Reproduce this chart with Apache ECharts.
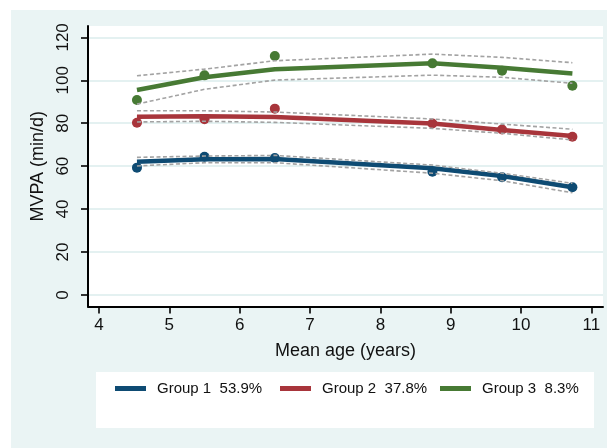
<!DOCTYPE html>
<html>
<head>
<meta charset="utf-8">
<script src="https://cdn.jsdelivr.net/npm/echarts@6/dist/echarts.min.js"></script>
<style>
html,body{margin:0;padding:0;background:#fff;width:607px;height:448px;overflow:hidden;}
#c{position:absolute;left:11px;top:10px;width:596px;height:438px;}
</style>
</head>
<body>
<div id="c"></div>
<script>
const ages = [4.54, 5.5, 6.5, 8.74, 9.73, 10.73];
const xTicks = [4, 5, 6, 7, 8, 9, 10, 11];
const yTicks = [0, 20, 40, 60, 80, 100, 120];
const groupNames = ['Group 1  53.9%', 'Group 2  37.8%', 'Group 3  8.3%'];

const g1Obs = [59.3, 64.4, 63.8, 57.4, 54.8, 50.2];
const g1Fit = [62.1, 63.2, 63.3, 59.0, 55.4, 50.2];
const g1Up  = [64.1, 64.7, 65.0, 60.5, 56.7, 52.0];
const g1Lo  = [60.1, 61.6, 61.6, 56.7, 53.2, 47.6];

const g2Obs = [80.2, 81.9, 86.8, 79.9, 77.1, 73.7];
const g2Fit = [83.0, 83.2, 82.9, 79.9, 76.8, 74.0];
const g2Up  = [85.8, 85.8, 85.2, 82.0, 79.6, 77.2];
const g2Lo  = [80.6, 80.9, 80.4, 77.6, 75.3, 72.2];

const g3Obs = [90.8, 102.3, 111.3, 107.9, 104.5, 97.5];
const g3Fit = [95.5, 101.4, 105.1, 107.9, 105.9, 103.2];
const g3Up  = [102.1, 105.2, 109.1, 112.2, 110.7, 108.2];
const g3Lo  = [88.9, 95.8, 100.1, 102.4, 101.4, 98.6];

const colors = ['#0e4b73', '#a8353b', '#477a34'];
const groups = [
  {obs: g1Obs, fit: g1Fit, up: g1Up, lo: g1Lo},
  {obs: g2Obs, fit: g2Fit, up: g2Up, lo: g2Lo},
  {obs: g3Obs, fit: g3Fit, up: g3Up, lo: g3Lo}
];

const pair = arr => ages.map((a, i) => [a, arr[i]]);
const FONT = 'Liberation Sans, Arial, Helvetica, sans-serif';

const series = [];
groups.forEach((g, k) => {
  series.push({
    name: groupNames[k] + ' obs', type: 'scatter', data: pair(g.obs),
    symbol: 'circle', symbolSize: 10, itemStyle: {color: colors[k], opacity: 1}, z: 2, silent: true
  });
  series.push({
    name: groupNames[k], type: 'line', data: pair(g.fit), showSymbol: false, symbol: 'none',
    lineStyle: {color: colors[k], width: 4.5}, itemStyle: {color: colors[k]}, z: 3, silent: true
  });
  [g.up, g.lo].forEach(ci => {
    series.push({
      name: groupNames[k] + ' ci', type: 'line', data: pair(ci), showSymbol: false, symbol: 'none',
      lineStyle: {color: '#a3a3a3', width: 1.6, type: [4, 2.5]}, z: 4, silent: true
    });
  });
});

const legendLefts = [104, 269, 429];
const legends = groupNames.map((n, k) => ({
  data: [n], left: legendLefts[k], top: 371, padding: 0,
  itemWidth: 31, itemHeight: 5, icon: 'rect', selectedMode: false,
  textStyle: {fontFamily: FONT, fontSize: 15, color: '#111', padding: [0, 0, 0, 6]}
}));

const chart = echarts.init(document.getElementById('c'), null, {renderer: 'canvas'});
chart.setOption({
  backgroundColor: '#eaf4f4',
  animation: false,
  color: colors,
  grid: {left: 77, top: 16, right: 4, bottom: 141.5, show: true, backgroundColor: '#ffffff', borderWidth: 0},
  legend: legends,
  graphic: [{
    type: 'rect', left: 85, top: 362, shape: {width: 498, height: 56},
    style: {fill: '#ffffff'}, z: 0, silent: true
  }],
  xAxis: {
    type: 'value', min: 3.844, max: 11.165,
    name: 'Mean age (years)', nameLocation: 'middle', nameGap: 36,
    nameTextStyle: {fontFamily: FONT, fontSize: 18, color: '#111'},
    axisLine: {show: true, onZero: false, lineStyle: {color: '#000', width: 2}},
    axisTick: {show: true, length: 7, lineStyle: {color: '#000', width: 1.6}, customValues: xTicks},
    axisLabel: {fontFamily: FONT, fontSize: 17, color: '#111', margin: 10, customValues: xTicks},
    splitLine: {show: false}
  },
  yAxis: {
    type: 'value', min: -5.4, max: 125.3,
    name: 'MVPA (min/d)', nameLocation: 'middle', nameGap: 41,
    nameTextStyle: {fontFamily: FONT, fontSize: 18, color: '#111'},
    axisLine: {show: true, onZero: false, lineStyle: {color: '#000', width: 2}},
    axisTick: {show: true, length: 7, lineStyle: {color: '#000', width: 1.6}, customValues: yTicks},
    axisLabel: {fontFamily: FONT, fontSize: 17, color: '#111', margin: 16, rotate: 90, customValues: yTicks},
    splitLine: {show: true, lineStyle: {color: '#e4f1f1', width: 2}}
  },
  series: series
});
</script>
</body>
</html>
